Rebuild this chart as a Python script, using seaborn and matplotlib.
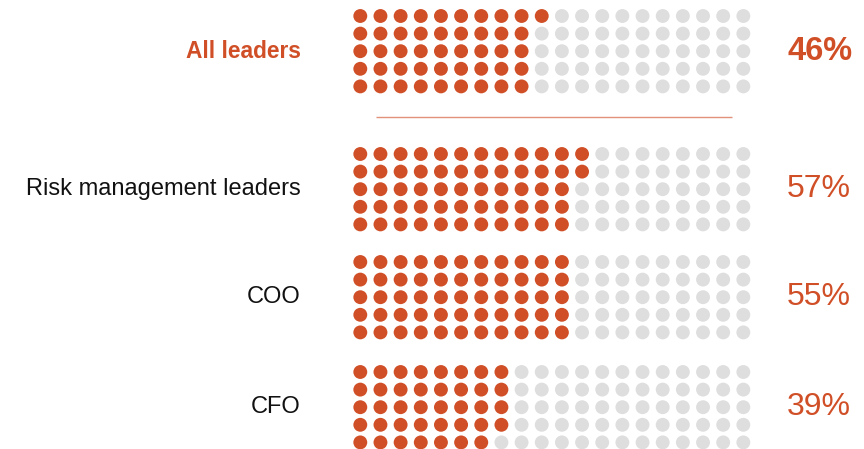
import numpy as np
import pandas as pd
import matplotlib
matplotlib.use("Agg")
import matplotlib.pyplot as plt
import seaborn as sns

categories = ["All leaders", "Risk management leaders", "COO", "CFO"]
values = [46, 57, 55, 39]
pct_labels = ["46%", "57%", "55%", "39%"]
highlight = [True, False, False, False]

ORANGE = "#d04f27"
GRAY = "#dedede"

sns.set_theme(style="white")
plt.rcParams["font.family"] = ["Liberation Sans", "DejaVu Sans"]

n_rows, n_cols = 5, 20
x0, dx = 360.3, 20.16
dy = 17.6
group_tops = [16.0, 154.0, 262.0, 372.0]

records = []
for g, (cat, v) in enumerate(zip(categories, values)):
    for c in range(n_cols):
        for r in range(n_rows):
            idx = c * n_rows + r
            records.append({
                "cat": cat,
                "x": x0 + c * dx,
                "y": group_tops[g] + r * dy,
                "state": "filled" if idx < v else "empty",
            })
df = pd.DataFrame(records)

fig = plt.figure(figsize=(8.64, 4.49), dpi=100)
ax = fig.add_axes([0, 0, 1, 1])
sns.scatterplot(data=df, x="x", y="y", hue="state",
                palette={"filled": ORANGE, "empty": GRAY},
                s=100, linewidth=0, legend=False, ax=ax)
ax.set_xlim(0, 864)
ax.set_ylim(449, 0)
ax.axis("off")

# divider
ax.plot([375.7, 732.3], [116.7, 116.7], color="#e2917a", lw=1.0, solid_capstyle="butt")

for g, (cat, lab, hl) in enumerate(zip(categories, pct_labels, highlight)):
    yc = group_tops[g] + 2 * dy
    if hl:
        ax.text(301, yc, cat, ha="right", va="center", fontsize=16.4,
                fontweight="bold", color=ORANGE)
        ax.text(787, yc, lab, ha="left", va="center", fontsize=23.5,
                fontweight="bold", color=ORANGE)
    else:
        ax.text(301, yc, cat, ha="right", va="center", fontsize=17,
                color="#111111")
        ax.text(787, yc, lab, ha="left", va="center", fontsize=23,
                color=ORANGE)

fig.savefig("out.png", dpi=100)
